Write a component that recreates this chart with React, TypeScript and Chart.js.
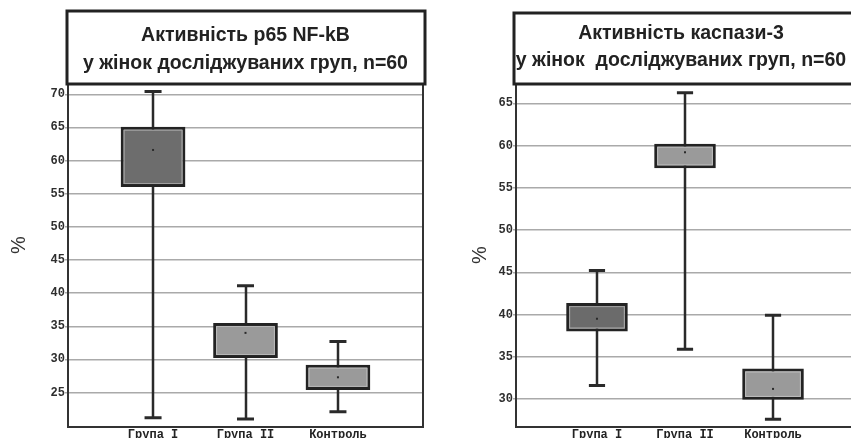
import React, { useEffect, useRef } from 'react';
import { Chart, registerables } from 'chart.js';

Chart.register(...registerables);

// ---------- data ----------
const categories = ['Група I', 'Група II', 'Контроль'];

// Left chart: p65 NF-kB activity, %
const nfkbTitle = ['Активність р65 NF-kB', 'у жінок досліджуваних груп, n=60'];
const nfkbWhiskerLow = [21.2, 21.0, 22.1];
const nfkbBoxLow = [56.0, 30.2, 25.4];
const nfkbCenter = [61.6, 34.0, 27.3];
const nfkbBoxHigh = [65.1, 35.5, 29.2];
const nfkbWhiskerHigh = [70.4, 41.1, 32.7];
const nfkbTicks = [25, 30, 35, 40, 45, 50, 55, 60, 65, 70];
const nfkbRange = [19.8, 71.55];

// Right chart: caspase-3 activity, %
const caspTitle = ['Активність каспази-3', 'у жінок  досліджуваних груп, n=60'];
const caspWhiskerLow = [31.6, 35.9, 27.6];
const caspBoxLow = [38.0, 57.3, 29.9];
const caspCenter = [39.5, 59.2, 31.2];
const caspBoxHigh = [41.35, 60.2, 33.6];
const caspWhiskerHigh = [45.2, 66.25, 39.9];
const caspTicks = [30, 35, 40, 45, 50, 55, 60, 65];
const caspRange = [26.69, 67.28];

const yLabel = '%';
const xRange = [0.08, 3.92];

type Spec = {
  title: string[];
  wLow: number[];
  bLow: number[];
  center: number[];
  bHigh: number[];
  wHigh: number[];
  ticks: number[];
  range: number[];
  colors: string[];
  // layout (styles)
  yAxisWidth: number;
  padRight: number;
  titleTop: number;
  titleLeftOffset: number;
  titleBaselines: number[];
  titleCenterX: number | null;
  pct: { x: number; y: number };
};

const decorPlugin = {
  id: 'boxDecor',
  beforeDatasetsDraw(chart: any, _a: any, o: any) {
    const { ctx, scales } = chart;
    const x = scales.x, y = scales.y;
    ctx.save();
    ctx.strokeStyle = '#2a2a2a';
    o.wLow.forEach((lo: number, i: number) => {
      const px = Math.round(x.getPixelForValue(i + 1));
      const yl = y.getPixelForValue(lo);
      const yh = y.getPixelForValue(o.wHigh[i]);
      ctx.lineWidth = 2.5;
      ctx.beginPath();
      ctx.moveTo(px, yl);
      ctx.lineTo(px, yh);
      ctx.stroke();
      const cl = x.getPixelForValue(i + 1 - 0.092);
      const cr = x.getPixelForValue(i + 1 + 0.092);
      ctx.lineWidth = 3;
      ctx.beginPath();
      ctx.moveTo(cl, yl);
      ctx.lineTo(cr, yl);
      ctx.moveTo(cl, yh);
      ctx.lineTo(cr, yh);
      ctx.stroke();
    });
    ctx.restore();
  },
  afterDatasetsDraw(chart: any, _a: any, o: any) {
    const { ctx, scales } = chart;
    const x = scales.x, y = scales.y;
    ctx.save();
    const meta = chart.getDatasetMeta(0);
    meta.data.forEach((el: any) => {
      const p = el.getProps(['x', 'y', 'base', 'width'], true);
      const left = p.x - p.width / 2;
      const top = Math.min(p.y, p.base);
      const h = Math.abs(p.base - p.y);
      ctx.strokeStyle = 'rgba(210,210,210,0.55)';
      ctx.lineWidth = 1;
      ctx.strokeRect(left + 3.5, top + 3.5, p.width - 7, h - 7);
    });
    ctx.fillStyle = '#2a2a2a';
    o.center.forEach((c: number, i: number) => {
      const px = x.getPixelForValue(i + 1);
      const py = y.getPixelForValue(c);
      ctx.fillRect(px - 1, py - 1, 2, 2);
    });
    ctx.restore();
  },
  afterDraw(chart: any, _a: any, o: any) {
    const { ctx, chartArea } = chart;
    const { left, right, top, bottom } = chartArea;
    ctx.save();
    // plot frame
    ctx.strokeStyle = '#333333';
    ctx.lineWidth = 2;
    ctx.strokeRect(left, top, right - left, bottom - top);
    // title box
    const tl = left - o.titleLeftOffset;
    ctx.fillStyle = '#ffffff';
    ctx.fillRect(tl, o.titleTop, right + 2 - tl, top - o.titleTop);
    ctx.strokeStyle = '#222222';
    ctx.lineWidth = 3;
    ctx.strokeRect(tl, o.titleTop, right + 2 - tl, top - o.titleTop);
    // title text
    ctx.fillStyle = '#222222';
    ctx.font = 'bold 19.5px "Liberation Sans", Arial, sans-serif';
    ctx.textAlign = 'center';
    ctx.textBaseline = 'alphabetic';
    const cx = o.titleCenterX != null ? o.titleCenterX : (left + right) / 2;
    o.title.forEach((line: string, i: number) => {
      ctx.fillText(line, cx, o.titleBaselines[i]);
    });
    // y label
    ctx.translate(o.pct.x, o.pct.y);
    ctx.rotate(-Math.PI / 2);
    ctx.font = '20px "Liberation Sans", Arial, sans-serif';
    ctx.fillStyle = '#333333';
    ctx.textBaseline = 'middle';
    ctx.fillText(yLabel, 0, 0);
    ctx.restore();
  },
};

function BoxChart({ spec, left, width }: { spec: Spec; left: number; width: number }) {
  const ref = useRef<HTMLCanvasElement | null>(null);
  useEffect(() => {
    if (!ref.current) return;
    const chart = new Chart(ref.current, {
      type: 'bar',
      data: {
        datasets: [
          {
            data: categories.map((_, i) => ({ x: i + 1, y: [spec.bLow[i], spec.bHigh[i]] })) as any,
            backgroundColor: spec.colors,
            borderColor: '#232323',
            borderWidth: 3,
            borderSkipped: false,
            categoryPercentage: 1,
            barPercentage: 0.7,
          },
        ],
      },
      options: {
        animation: false,
        responsive: false,
        maintainAspectRatio: false,
        events: [],
        layout: { padding: { top: 84, left: 0, right: spec.padRight, bottom: 0 } },
        plugins: {
          legend: { display: false },
          tooltip: { enabled: false },
          title: { display: false },
          boxDecor: spec as any,
        } as any,
        scales: {
          x: {
            type: 'linear',
            min: xRange[0],
            max: xRange[1],
            offset: false,
            grid: { display: false, drawTicks: false },
            border: { display: false },
            afterBuildTicks: (s: any) => {
              s.ticks = categories.map((_, i) => ({ value: i + 1 }));
            },
            afterFit: (s: any) => {
              s.height = 23;
            },
            ticks: {
              autoSkip: false,
              maxRotation: 0,
              padding: 1,
              color: '#222222',
              font: { family: '"Liberation Mono", "DejaVu Sans Mono", monospace', size: 12, weight: 'bold' },
              callback: (_v: any, i: number) => categories[i],
            },
          },
          y: {
            type: 'linear',
            min: spec.range[0],
            max: spec.range[1],
            grid: { color: '#aaaaaa', lineWidth: 1.5, tickLength: 3 },
            border: { display: false },
            afterBuildTicks: (s: any) => {
              s.ticks = spec.ticks.map((v) => ({ value: v }));
            },
            afterFit: (s: any) => {
              s.width = spec.yAxisWidth;
            },
            ticks: {
              padding: 0,
              color: '#2e2e2e',
              font: { family: '"Liberation Mono", "DejaVu Sans Mono", monospace', size: 12, weight: 'bold' },
              callback: (v: any) => String(v),
            },
          },
        },
      },
      plugins: [decorPlugin as any],
    });
    return () => chart.destroy();
  }, [spec]);
  return (
    <canvas
      ref={ref}
      width={width}
      height={450}
      style={{ position: 'absolute', left, top: 0, width, height: 450 }}
    />
  );
}

const leftSpec: Spec = {
  title: nfkbTitle,
  wLow: nfkbWhiskerLow,
  bLow: nfkbBoxLow,
  center: nfkbCenter,
  bHigh: nfkbBoxHigh,
  wHigh: nfkbWhiskerHigh,
  ticks: nfkbTicks,
  range: nfkbRange,
  colors: ['#6d6d6d', '#9a9a9a', '#9a9a9a'],
  yAxisWidth: 68,
  padRight: 9,
  titleTop: 11,
  titleLeftOffset: 1,
  titleBaselines: [41, 69],
  titleCenterX: null,
  pct: { x: 19, y: 245 },
};

const rightSpec: Spec = {
  title: caspTitle,
  wLow: caspWhiskerLow,
  bLow: caspBoxLow,
  center: caspCenter,
  bHigh: caspBoxHigh,
  wHigh: caspWhiskerHigh,
  ticks: caspTicks,
  range: caspRange,
  colors: ['#6b6b6b', '#9a9a9a', '#9a9a9a'],
  yAxisWidth: 78,
  padRight: 6,
  titleTop: 13,
  titleLeftOffset: 2,
  titleBaselines: [39, 66],
  titleCenterX: 243,
  pct: { x: 42, y: 255 },
};

export default function App() {
  return (
    <div
      style={{
        position: 'fixed',
        left: 0,
        top: 0,
        width: 851,
        height: 438,
        overflow: 'hidden',
        background: '#ffffff',
      }}
    >
      <BoxChart spec={leftSpec} left={0} width={432} />
      <BoxChart spec={rightSpec} left={438} width={422} />
    </div>
  );
}
